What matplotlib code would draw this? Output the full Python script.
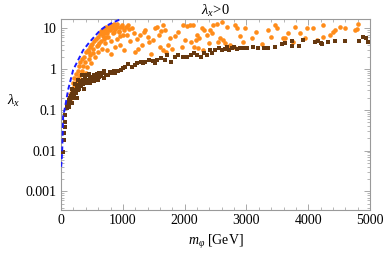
"""
Scan of lambda_x > 0 versus the scalar mass m_phi.
Orange: allowed points, brown: points passing the extra constraint,
blue dashed: upper bound curve.
"""

import matplotlib
matplotlib.use('Agg')
import matplotlib.pyplot as plt
from matplotlib.ticker import FixedLocator, MultipleLocator, LogLocator, NullFormatter

plt.rcParams['font.family'] = ['Liberation Serif', 'DejaVu Serif']
plt.rcParams['mathtext.fontset'] = 'custom'
plt.rcParams['mathtext.rm'] = 'Liberation Serif'
plt.rcParams['mathtext.it'] = 'Liberation Serif:italic'

# --- Data ---

orange_m = [
    105, 120, 135, 150, 165, 175, 190, 200, 215, 225, 240, 250, 265, 280, 290,
    300, 310, 330, 340, 355, 370, 385, 395, 400, 420, 430, 445, 460, 470, 480,
    500, 510, 520, 540, 550, 560, 575, 590, 600, 610, 625, 640, 650, 660, 670,
    690, 700, 710, 730, 740, 750, 760, 780, 790, 800, 810, 830, 840, 860, 870,
    880, 900, 910, 930, 950, 960, 980, 990, 1000, 1010,
    680, 720, 770, 820, 870, 900, 940, 1020, 1060, 1080, 600, 700, 750, 850, 950,
    480, 450,
    1050, 1100, 1150, 1180, 1200, 1230, 1280, 1310, 1340, 1360, 1400, 1430, 1490,
    1520, 1550, 1580, 1620, 1650, 1650, 1680, 1700, 1730, 1760, 1800, 1850, 1900,
    1950, 1975, 2000, 1250, 1120, 1450, 1600,
    2030, 2080, 2100, 2135, 2150, 2180, 2200, 2210, 2230, 2280, 2300, 2320, 2360,
    2400, 2410, 2440, 2460, 2520, 2570, 2540, 2600, 2620, 2660, 2685, 2700, 2735,
    2800, 2815, 2850, 2900, 2977, 2950,
    3090, 3150, 3350, 3400, 3460, 3500, 3590, 3625, 3670, 3750, 3785, 3870, 3950,
    3980, 4080, 4240, 4240, 4350, 4400, 4430, 4515, 4600, 4760, 4790, 4805, 3250,
    4150,
]
orange_lam = [
    0.14, 0.2, 0.16, 0.25, 0.2, 0.3, 0.45, 0.35, 0.6, 0.4, 0.75, 0.5, 0.9, 0.6, 1.2,
    0.7, 1.5, 0.9, 1.8, 1.2, 2.0, 1.5, 0.8, 2.6, 1.1, 3.0, 1.8, 3.4, 2.2, 1.4,
    4.2, 2.5, 3.2, 4.8, 2.0, 5.5, 3.6, 6.2, 2.6, 4.4, 7.2, 5.0, 8.5, 3.2, 6.4,
    9.5, 7.5, 4.4, 10.5, 8.5, 3.0, 6.0, 11.5, 9.0, 5.0, 2.4, 10.0, 7.5, 12.5, 3.5,
    9.5, 5.5, 11.0, 8.5, 6.5, 4.0, 12.0, 10.5, 7.0, 3.0,
    8.0, 6.0, 10.0, 12.0, 11.0, 12.5, 8.0, 9.0, 7.0, 12.0, 4.0, 5.5, 7.8, 8.0, 10.5,
    3.8, 2.6,
    11.0, 9.5, 10.0, 7.5, 2.6, 5.5, 6.7, 3.8, 8.0, 9.0, 6.0, 4.5, 5.1,
    10.0, 10.5, 7.0, 8.5, 11.8, 2.9, 9.0, 2.6, 4.0, 5.7, 3.2, 6.5, 8.0,
    3.5, 11.8, 5.1, 3.2, 4.8, 2.4, 3.5,
    11.5, 12.0, 4.6, 11.8, 3.4, 5.1, 6.7, 3.3, 5.7, 10.0, 2.9, 9.0, 6.7,
    4.3, 9.0, 7.5, 11.8, 13.0, 5.7, 4.6, 14.0, 5.1, 4.3, 10.5, 3.4, 3.8,
    3.4, 11.8, 10.0, 6.5, 10.0, 4.5,
    5.7, 8.0, 9.0, 6.0, 11.8, 10.0, 5.7, 5.7, 7.5, 4.6, 10.5, 7.5, 5.7,
    10.0, 10.0, 11.8, 6.0, 6.7, 8.0, 9.0, 10.5, 10.0, 9.0, 9.5, 13.0, 4.2,
    5.2,
]

brown_m = [
    30, 45, 50, 55, 60, 70, 90, 100, 110, 120, 130, 140, 150, 160, 175, 185,
    200, 210, 225, 240, 250, 265, 275, 290, 300, 320, 330, 350, 360, 380, 390,
    410, 420, 440, 460, 480, 500, 520, 540, 560, 580, 600, 620, 650, 680, 700,
    730, 760, 790, 820, 850, 880, 920, 970, 1000, 1040, 1080, 1150, 1190, 1230,
    1290, 1325, 1360, 1420, 1480, 1520, 1560, 1620, 1680, 1720, 1780, 1840, 1900,
    1975, 2040, 2100, 2150, 2200, 2260, 2310, 2360, 2410, 2450, 2490, 2550, 2600,
    2650, 2685, 2720, 2760, 2800, 2850, 2900, 2945, 3010, 3105, 3180, 3285, 3350,
    3460, 3575, 3625, 3740, 3740, 3850, 3915, 4110, 4160, 4200, 4230, 4320, 4430,
    4600, 4820, 4890, 4940, 4960,
    170, 230, 280, 340, 400, 450, 530, 610, 700, 180, 260, 370, 470,
]
brown_lam = [
    0.009, 0.018, 0.027, 0.038, 0.05, 0.075, 0.11, 0.13, 0.15, 0.12, 0.17, 0.2,
    0.16, 0.22, 0.25, 0.19, 0.28, 0.23, 0.3, 0.26, 0.35, 0.3, 0.4, 0.33, 0.45,
    0.38, 0.5, 0.42, 0.55, 0.46, 0.6,
    0.45, 0.55, 0.48, 0.6, 0.52, 0.65, 0.56, 0.7, 0.6, 0.75, 0.55, 0.64, 0.68,
    0.8, 0.62, 0.72, 0.7, 0.85, 0.78, 0.92, 0.82, 0.9, 0.95, 1.05,
    1.1, 1.3, 1.1, 1.25, 1.4, 1.5, 1.4, 1.5, 1.66, 1.55, 1.4,
    1.7, 1.86, 1.66, 2.2, 1.5, 2.0, 2.2, 2.0, 1.96, 2.2, 2.45, 2.2, 2.0, 2.45,
    2.2, 2.9, 2.45, 2.9, 3.3, 2.9, 3.1, 3.4, 3.0, 3.3, 3.4, 3.1, 3.3, 3.3, 3.3,
    3.4, 3.3, 3.3, 3.3, 3.4, 4.1, 4.3, 3.6, 4.8, 3.6, 5.1, 4.6, 5.0, 4.3, 4.1,
    4.6, 5.0, 5.0, 4.8, 6.0, 5.7, 4.6,
    0.32, 0.42, 0.55, 0.7, 0.7, 0.75, 0.5, 0.8, 0.9, 0.15, 0.2, 0.32, 0.45,
]

bound_m = [0, 16, 32, 65, 113, 194, 260, 356, 450, 540, 631, 720, 800, 870, 922, 960]
bound_lam = [0.004, 0.009, 0.068, 0.12, 0.31, 0.95, 1.5, 2.9, 4.4, 6.3, 8.9, 11.2, 13.0, 14.6, 15.7, 17.0]

y_ticks = [0.001, 0.01, 0.1, 1, 10]
y_tick_labels = ['0.001', '0.01', '0.1', '1', '10']
x_ticks = [0, 1000, 2000, 3000, 4000, 5000]

FRAME = '#9a9a9a'
ORANGE = '#ff8c1a'
BROWN = '#66380f'


# --- Plot ---

fig = plt.figure(figsize=(3.87, 2.56), dpi=100)
ax = fig.add_axes([0.158, 0.18, 0.798, 0.746])

ax.scatter(orange_m, orange_lam, s=11, marker='o', color=ORANGE, linewidths=0, zorder=2)
ax.scatter(brown_m, brown_lam, s=9, marker='s', color=BROWN, linewidths=0, zorder=3)
ax.plot(bound_m, bound_lam, color='#1a1aff', lw=1.4, ls=(0, (2.5, 1.5)), zorder=4)

ax.set_yscale('log')
ax.set_xlim(0, 5000)
ax.set_ylim(3.5e-4, 17)

ax.xaxis.set_major_locator(FixedLocator(x_ticks))
ax.xaxis.set_minor_locator(MultipleLocator(200))
ax.yaxis.set_major_locator(FixedLocator(y_ticks))
ax.set_yticklabels(y_tick_labels)
ax.yaxis.set_minor_locator(LogLocator(base=10, subs=range(2, 10), numticks=20))
ax.yaxis.set_minor_formatter(NullFormatter())

ax.tick_params(which='both', direction='in', top=True, right=True, color=FRAME,
               labelsize=10, pad=3)
ax.tick_params(which='major', length=4, width=0.6)
ax.tick_params(which='minor', length=2, width=0.5)
for side in ax.spines.values():
    side.set_color(FRAME)
    side.set_linewidth(0.8)

ax.set_xlabel(r'$m_\varphi$ [GeV]', fontsize=10, labelpad=4)
ax.set_ylabel(r'$\lambda_x$', fontsize=10.5, rotation=0)
ax.yaxis.set_label_coords(-0.155, 0.53)
ax.set_title(r'$\lambda_x\!>\!0$', fontsize=10.5, pad=2)

fig.savefig('out.png', dpi=100)
